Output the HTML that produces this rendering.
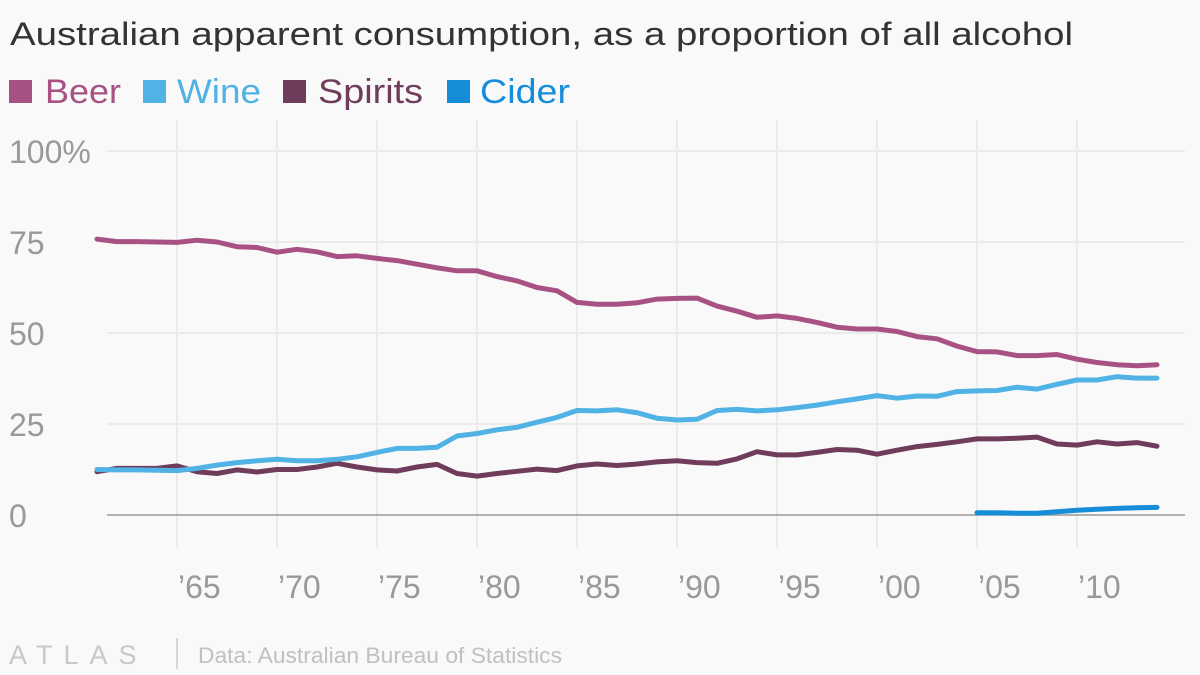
<!DOCTYPE html>
<html><head><meta charset="utf-8"><style>
html,body{margin:0;padding:0;background:#f9f9f9;}
svg{display:block;font-family:"Liberation Sans",sans-serif;}
</style></head><body>
<svg id="chart" width="1200" height="675" viewBox="0 0 1200 675">
<rect width="1200" height="675" fill="#f9f9f9"/>
<text x="10" y="45" font-size="32" fill="#333" textLength="1063" lengthAdjust="spacingAndGlyphs">Australian apparent consumption, as a proportion of all alcohol</text>
<g>
<g><rect x="9" y="80" width="23" height="23" fill="#a85284"/><text x="45" y="103" font-size="34" fill="#a85284" textLength="76" lengthAdjust="spacingAndGlyphs">Beer</text></g>
<g><rect x="143" y="80" width="23" height="23" fill="#51b2e5"/><text x="177" y="103" font-size="34" fill="#51b2e5" textLength="84" lengthAdjust="spacingAndGlyphs">Wine</text></g>
<g><rect x="283" y="80" width="23" height="23" fill="#703c5c"/><text x="318" y="103" font-size="34" fill="#703c5c" textLength="105" lengthAdjust="spacingAndGlyphs">Spirits</text></g>
<g><rect x="447" y="80" width="23" height="23" fill="#168dd9"/><text x="480" y="103" font-size="34" fill="#168dd9" textLength="90" lengthAdjust="spacingAndGlyphs">Cider</text></g>
</g>
<g id="grid"></g>
<g id="yaxis"></g>
<g id="xaxis"></g>
<g id="series"></g>
<g>
<text x="9" y="664" font-size="27" fill="#c8c8c8" letter-spacing="11">ATLAS</text>
<line x1="177" y1="638" x2="177" y2="669" stroke="#ccc" stroke-width="1.5"/>
<text x="198" y="663" font-size="22" fill="#c0c0c0" textLength="364" lengthAdjust="spacingAndGlyphs">Data: Australian Bureau of Statistics</text>
</g>
</svg>
<script>
const years = [];
for (let y = 1961; y <= 2014; y++) years.push(y);
const beer = [75.8,75.1,75.1,75.0,74.9,75.5,75.0,73.7,73.5,72.2,73.0,72.3,71.0,71.2,70.5,69.9,68.9,67.9,67.1,67.1,65.5,64.3,62.5,61.6,58.4,57.9,57.9,58.3,59.3,59.5,59.6,57.4,56.0,54.3,54.7,54.0,52.9,51.6,51.1,51.1,50.4,49.0,48.4,46.4,44.9,44.8,43.8,43.8,44.1,42.8,41.9,41.3,41.0,41.3];
const wine = [12.5,12.4,12.4,12.3,12.2,12.8,13.7,14.4,14.9,15.3,14.9,14.9,15.3,16.0,17.2,18.3,18.3,18.6,21.7,22.4,23.4,24.1,25.5,26.8,28.7,28.6,28.9,28.1,26.6,26.1,26.3,28.7,29.0,28.6,28.9,29.5,30.2,31.1,31.9,32.8,32.1,32.7,32.6,33.9,34.1,34.2,35.1,34.6,35.9,37.1,37.1,38.0,37.6,37.6];
const spirits = [11.9,12.8,12.8,12.8,13.5,11.9,11.4,12.4,11.8,12.5,12.5,13.2,14.2,13.2,12.4,12.1,13.2,13.9,11.4,10.7,11.4,12.0,12.6,12.2,13.5,14.0,13.6,14.0,14.6,14.9,14.4,14.2,15.4,17.4,16.5,16.5,17.2,18.0,17.8,16.7,17.8,18.8,19.4,20.1,20.9,20.9,21.1,21.4,19.5,19.2,20.1,19.5,19.9,18.9];
const ciderYears = [2005,2006,2007,2008,2009,2010,2011,2012,2013,2014];
const cider = [0.6,0.6,0.5,0.5,0.9,1.3,1.6,1.8,2.0,2.1];
const yTicks = [0,25,50,75,100];
const yTickLabels = ["0","25","50","75","100%"];
const xTicks = [1965,1970,1975,1980,1985,1990,1995,2000,2005,2010];
const xTickLabels = ["\u201965","\u201970","\u201975","\u201980","\u201985","\u201990","\u201995","\u201900","\u201905","\u201910"];

const NS = "http://www.w3.org/2000/svg";
const X = yr => 177 + (yr - 1965) * 20;
const Y = v => 515 - v * 3.64;
function mk(tag, attrs, parent){ const e=document.createElementNS(NS,tag); for(const k in attrs) e.setAttribute(k,attrs[k]); parent.appendChild(e); return e; }
const grid=document.getElementById('grid'), ya=document.getElementById('yaxis'), xa=document.getElementById('xaxis'), se=document.getElementById('series');

xTicks.forEach((t,i)=>{
  const l=mk('line',{x1:X(t),x2:X(t),y1:120,y2:548,stroke:'#ebebeb','stroke-width':2},grid);
  
  
  const tx=mk('text',{x:X(t)+1,y:598,'font-size':32,fill:'#999'},xa);
  tx.textContent=xTickLabels[i];
  
  
});
yTicks.forEach((t,i)=>{
  if(t>0){
    const l=mk('line',{x1:107,x2:1185,y1:Y(t),y2:Y(t),stroke:'#ebebeb','stroke-width':2},grid);
    
    
  }
  const tx=mk('text',{x:9,y:Y(t)+12,'font-size':32,fill:'#999'},ya);
  tx.textContent=yTickLabels[i];
  
  
});
const base=mk('line',{x1:107,x2:1185,y1:Y(0),y2:Y(0),stroke:'#999','stroke-width':1.5},grid);



function line(xs, vals, color, name){
  const d=vals.map((v,i)=>(i?'L':'M')+X(xs[i]).toFixed(1)+','+Y(v).toFixed(1)).join(' ');
  const p=mk('path',{d:d,fill:'none',stroke:color,'stroke-width':5,'stroke-linejoin':'round','stroke-linecap':'round'},se);
  
  
}
line(years, spirits, '#703c5c', 'spirits-line');
line(years, wine, '#51b2e5', 'wine-line');
line(years, beer, '#a85284', 'beer-line');
line(ciderYears, cider, '#168dd9', 'cider-line');
</script>
</body></html>
